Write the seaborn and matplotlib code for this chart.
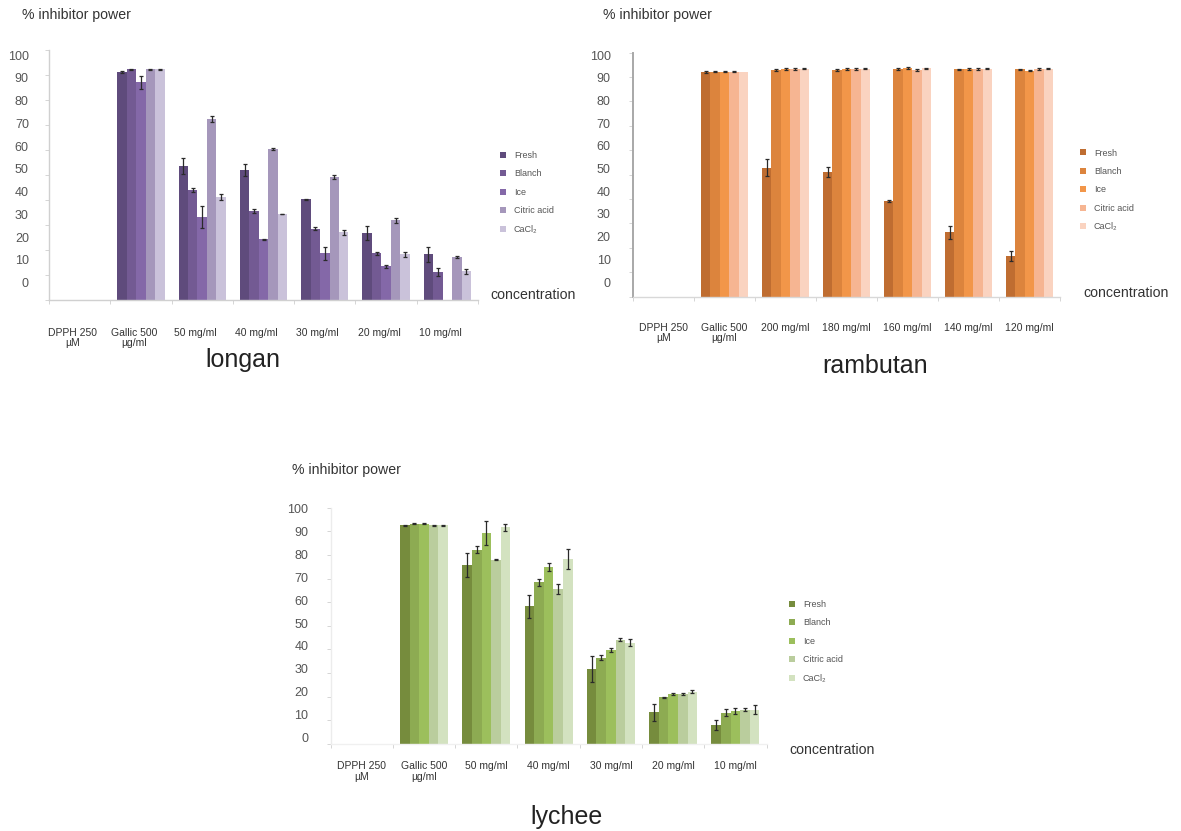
import numpy as np
import pandas as pd
import matplotlib
matplotlib.use("Agg")
import matplotlib.pyplot as plt
import seaborn as sns
from matplotlib.patches import Patch
from matplotlib.container import BarContainer
from matplotlib.transforms import ScaledTranslation

nan = np.nan

# ---------------- data ----------------
treatments = ["Fresh", "Blanch", "Ice", "Citric acid", "CaCl\u2082"]
ytick_labels = ["0", "10", "20", "30", "40", "50", "60", "70", "80", "90", "100"]

longan_categories = ["DPPH 250\n\u00b5M", "Gallic 500\n\u00b5g/ml", "50 mg/ml", "40 mg/ml",
                     "30 mg/ml", "20 mg/ml", "10 mg/ml"]
longan_fresh = [0, 91.3, 53.6, 52.0, 40.3, 26.9, 18.3]
longan_blanch = [0, 92.3, 44.0, 35.7, 28.5, 18.7, 11.3]
longan_ice = [0, 87.1, 33.3, 24.4, 18.7, 13.6, 0]
longan_citric = [0, 92.3, 72.3, 60.4, 49.2, 32.0, 17.2]
longan_cacl2 = [0, 92.3, 41.1, 34.5, 27.1, 18.3, 11.5]
longan_fresh_err = [nan, 0.3, 3.1, 2.4, 0.2, 2.9, 2.9]
longan_blanch_err = [nan, 0.3, 0.7, 0.7, 0.6, 0.6, 1.5]
longan_ice_err = [nan, 2.5, 4.3, 0.2, 2.5, 0.6, nan]
longan_citric_err = [nan, 0.3, 1.2, 0.5, 0.8, 1.0, 0.5]
longan_cacl2_err = [nan, 0.3, 1.2, 0.1, 1.1, 1.0, 1.0]

rambutan_categories = ["DPPH 250\n\u00b5M", "Gallic 500\n\u00b5g/ml", "200 mg/ml", "180 mg/ml",
                       "160 mg/ml", "140 mg/ml", "120 mg/ml"]
rambutan_fresh = [0, 92.0, 52.9, 51.1, 39.2, 26.4, 16.7]
rambutan_blanch = [0, 92.2, 93.0, 92.9, 93.2, 93.2, 93.3]
rambutan_ice = [0, 92.2, 93.4, 93.4, 93.8, 93.4, 92.7]
rambutan_citric = [0, 92.2, 93.2, 93.3, 93.0, 93.4, 93.3]
rambutan_cacl2 = [0, 92.0, 93.4, 93.4, 93.6, 93.4, 93.4]
rambutan_fresh_err = [nan, 0.3, 3.4, 2.0, 0.3, 2.7, 2.2]
rambutan_blanch_err = [nan, 0.2, 0.4, 0.3, 0.4, 0.3, 0.2]
rambutan_ice_err = [nan, 0.2, 0.3, 0.3, 0.5, 0.3, 0.3]
rambutan_citric_err = [nan, 0.2, 0.4, 0.3, 0.4, 0.3, 0.3]
rambutan_cacl2_err = [nan, nan, 0.2, 0.2, 0.2, 0.2, 0.2]

lychee_categories = ["DPPH 250\n\u00b5M", "Gallic 500\n\u00b5g/ml", "50 mg/ml", "40 mg/ml",
                     "30 mg/ml", "20 mg/ml", "10 mg/ml"]
lychee_fresh = [0, 92.5, 75.8, 58.2, 31.6, 13.4, 8.1]
lychee_blanch = [0, 93.2, 82.2, 68.5, 36.6, 19.8, 13.3]
lychee_ice = [0, 93.2, 89.3, 74.9, 39.8, 21.3, 13.9]
lychee_citric = [0, 92.5, 78.0, 65.5, 44.1, 21.3, 14.5]
lychee_cacl2 = [0, 92.5, 91.7, 78.2, 42.9, 22.2, 14.5]
lychee_fresh_err = [nan, 0.2, 5.0, 4.7, 5.5, 3.7, 2.1]
lychee_blanch_err = [nan, 0.3, 1.5, 1.5, 1.0, 0.2, 1.5]
lychee_ice_err = [nan, 0.3, 4.9, 1.5, 1.0, 0.4, 1.3]
lychee_citric_err = [nan, 0.2, 0.3, 2.0, 0.6, 0.4, 0.7]
lychee_cacl2_err = [nan, 0.2, 1.5, 4.2, 1.4, 0.7, 2.0]

# ---------------- style ----------------
longan_palette = ["#5f4b7c", "#735a93", "#8468a8", "#a597bb", "#cac2da"]
rambutan_palette = ["#bf6d31", "#dc843d", "#f29649", "#f6b592", "#fad3c0"]
lychee_palette = ["#768c3d", "#8dab52", "#9cbf5c", "#bacd9d", "#d3e2c0"]

sns.set_style("white")
plt.rcParams["font.family"] = ["Liberation Sans", "DejaVu Sans"]

W, H = 1181, 831
fig = plt.figure(figsize=(W / 100, H / 100), dpi=100)


def rect(l, t, r, b):
    return [l / W, 1 - b / H, (r - l) / W, (b - t) / H]


def draw_chart(box, categories, values, errs, palette, label_base, label_step,
               left_color, left_lw, bottom_color, xpad, xshift, ypad,
               legend_xy, conc_xy, title, title_xy, ylab_xy):
    ax = fig.add_axes(rect(*box))
    rows = []
    for t, vals in zip(treatments, values):
        for c, v in zip(categories, vals):
            rows.append({"category": c, "treatment": t, "value": v})
    df = pd.DataFrame(rows)
    sns.barplot(data=df, x="category", y="value", hue="treatment",
                order=categories, hue_order=treatments, palette=palette,
                width=0.77, gap=0, errorbar=None, saturation=1, legend=False,
                linewidth=0, ax=ax)
    bar_conts = [c for c in ax.containers if isinstance(c, BarContainer)]
    for hi, cont in enumerate(bar_conts):
        for patch in cont.patches:
            if patch is None:
                continue
            cx = patch.get_x() + patch.get_width() / 2
            j = int(round(cx))
            e = errs[hi][j]
            if not np.isnan(e):
                ax.errorbar(cx, values[hi][j], yerr=e, fmt="none", ecolor="#2a2a2a",
                            elinewidth=0.9, capsize=1.6, capthick=0.9, zorder=5)
    ax.set_xlim(-0.5, len(categories) - 0.5)
    ax.set_ylim(0, 100)
    ax.set_xlabel("")
    ax.set_ylabel("")
    ax.set_xticks(range(len(categories)))
    ax.set_xticklabels(categories, fontsize=7.5, color="#333333", linespacing=1.05)
    ax.set_xticks(np.arange(-0.5, len(categories), 1), minor=True)
    ax.tick_params(axis="x", which="major", length=0, pad=xpad)
    ax.tick_params(axis="x", which="minor", length=3, color="#cfcfcf", bottom=True)
    if xshift:
        off = ScaledTranslation(xshift / 100, 0, fig.dpi_scale_trans)
        for lab in ax.get_xticklabels():
            lab.set_transform(lab.get_transform() + off)
    label_pos = [label_base + label_step * k for k in range(len(ytick_labels))]
    ax.set_yticks(label_pos)
    ax.set_yticklabels(ytick_labels, fontsize=9, color="#555555")
    ax.set_yticks(np.arange(0, 101, 10), minor=True)
    ax.tick_params(axis="y", which="major", length=0, pad=ypad)
    ax.tick_params(axis="y", which="minor", length=3, color="#cfcfcf", left=True)
    for s in ["top", "right"]:
        ax.spines[s].set_visible(False)
    ax.spines["left"].set_color(left_color)
    ax.spines["left"].set_linewidth(left_lw)
    ax.spines["bottom"].set_color(bottom_color)
    ax.spines["bottom"].set_linewidth(1.0)
    ax.grid(False)

    handles = [Patch(facecolor=c, edgecolor="none") for c in palette]
    ax.legend(handles, treatments, loc="upper left",
              bbox_to_anchor=(legend_xy[0] / W, 1 - legend_xy[1] / H),
              bbox_transform=fig.transFigure, frameon=False, fontsize=6.5,
              labelcolor="#555555", handlelength=0.65, handleheight=0.65,
              handletextpad=0.9, labelspacing=1.05, borderpad=0, borderaxespad=0)
    fig.text(conc_xy[0] / W, 1 - conc_xy[1] / H, "concentration", fontsize=10.2,
             color="#333333", ha="left", va="center")
    fig.text(title_xy[0] / W, 1 - title_xy[1] / H, title, fontsize=18,
             color="#222222", ha="center", va="center")
    fig.text(ylab_xy[0] / W, 1 - ylab_xy[1] / H, "% inhibitor power", fontsize=10.2,
             color="#333333", ha="left", va="center")
    return ax


draw_chart((49, 50, 478, 300), longan_categories,
           [longan_fresh, longan_blanch, longan_ice, longan_citric, longan_cacl2],
           [longan_fresh_err, longan_blanch_err, longan_ice_err, longan_citric_err, longan_cacl2_err],
           longan_palette, 6.9, 9.11, "#d0d0d0", 1.0, "#d0d0d0", 20, -7, 14.5,
           (500, 151), (490, 295), "longan", (243, 360), (22, 15))

draw_chart((633, 52.7, 1060, 296.7), rambutan_categories,
           [rambutan_fresh, rambutan_blanch, rambutan_ice, rambutan_citric, rambutan_cacl2],
           [rambutan_fresh_err, rambutan_blanch_err, rambutan_ice_err, rambutan_citric_err, rambutan_cacl2_err],
           rambutan_palette, 6.0, 9.3, "#a8a8a8", 1.4, "#d8d8d8", 19, 0, 16,
           (1080, 148.5), (1083, 293), "rambutan", (875, 366), (603, 15))

draw_chart((330.6, 507.7, 766.6, 744), lychee_categories,
           [lychee_fresh, lychee_blanch, lychee_ice, lychee_citric, lychee_cacl2],
           [lychee_fresh_err, lychee_blanch_err, lychee_ice_err, lychee_citric_err, lychee_cacl2_err],
           lychee_palette, 2.8, 9.67, "#ececec", 1.0, "#f0f0f0", 12.5, 0, 16,
           (789, 600), (789, 750), "lychee", (567, 817), (292, 470))

fig.savefig("out.png", dpi=100, facecolor="white")
